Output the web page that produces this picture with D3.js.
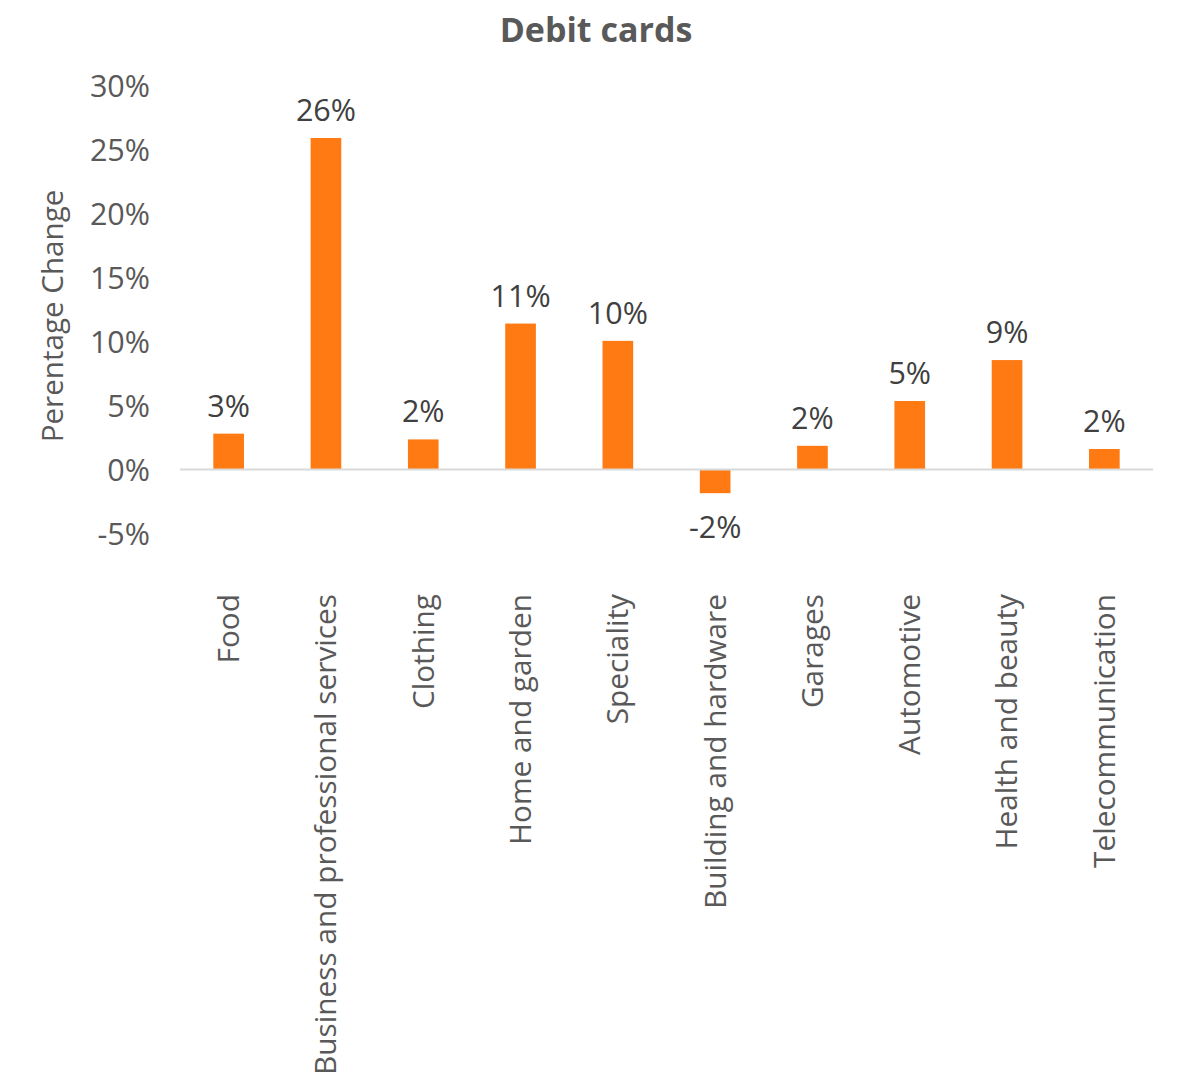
<!DOCTYPE html>
<html>
<head>
<meta charset="utf-8">
<script src="https://cdn.jsdelivr.net/npm/d3@7"></script>
<style>
  html, body { margin: 0; padding: 0; background: #fff; }
  svg { display: block; font-family: "Open Sans", "DejaVu Sans", sans-serif; }
</style>
</head>
<body>
<svg id="chart" width="1187" height="1079"></svg>
<script>
// Year-on-year change in debit card spending by merchant category (%)
const categories = [
  "Food",
  "Business and professional services",
  "Clothing",
  "Home and garden",
  "Speciality",
  "Building and hardware",
  "Garages",
  "Automotive",
  "Health and beauty",
  "Telecommunication"
];
const changes = [2.8, 25.9, 2.35, 11.4, 10.05, -1.85, 1.85, 5.35, 8.55, 1.6];
const yTicks = [-5, 0, 5, 10, 15, 20, 25, 30];

const svg = d3.select("#chart");

const x = d3.scaleBand()
  .domain(categories)
  .range([180, 1153])
  .paddingInner(0.685)
  .paddingOuter(0.3425);

const y = d3.scaleLinear()
  .domain([-5, 30])
  .range([533.5, 85.5]);

// Title
svg.append("text")
  .attr("x", 596)
  .attr("y", 42)
  .attr("text-anchor", "middle")
  .attr("font-size", 34)
  .attr("font-weight", 700)
  .attr("fill", "#595959")
  .text("Debit cards");

// Y axis (labels only)
const yAxis = d3.axisLeft(y)
  .tickValues(yTicks)
  .tickSize(0)
  .tickPadding(0)
  .tickFormat(d => d + "%");

svg.append("g")
  .attr("transform", "translate(150,1.5)")
  .call(yAxis)
  .call(g => g.select(".domain").remove())
  .call(g => g.selectAll("text")
    .attr("font-size", 30.5)
    .attr("font-family", "Open Sans, DejaVu Sans, sans-serif")
    .attr("fill", "#595959"));

// Y axis title
svg.append("text")
  .attr("transform", "translate(63,316) rotate(-90)")
  .attr("text-anchor", "middle")
  .attr("font-size", 29.6)
  .attr("fill", "#595959")
  .text("Perentage Change");

// Bars
svg.append("g")
  .selectAll("rect")
  .data(changes)
  .join("rect")
  .attr("x", (d, i) => x(categories[i]))
  .attr("width", x.bandwidth())
  .attr("y", d => y(Math.max(0, d)))
  .attr("height", d => Math.abs(y(d) - y(0)))
  .attr("fill", "#FF7A12");

// Zero line
svg.append("line")
  .attr("x1", 180)
  .attr("x2", 1153)
  .attr("y1", y(0))
  .attr("y2", y(0))
  .attr("stroke", "#D9D9D9")
  .attr("stroke-width", 2);

// Value labels
svg.append("g")
  .selectAll("text")
  .data(changes)
  .join("text")
  .attr("x", (d, i) => x(categories[i]) + x.bandwidth() / 2)
  .attr("y", d => d >= 0 ? y(d) - 17 : y(d) + 45)
  .attr("text-anchor", "middle")
  .attr("font-size", 30.5)
  .attr("fill", "#404040")
  .text(d => Math.round(d) + "%");

// Category labels, rotated
const xAxis = d3.axisBottom(x).tickSize(0).tickPadding(0);
svg.append("g")
  .call(xAxis)
  .call(g => g.select(".domain").remove())
  .call(g => g.selectAll(".tick text")
    .attr("transform", "translate(0,594) rotate(-90)")
    .attr("x", 0)
    .attr("y", 0)
    .attr("dy", "0.35em")
    .attr("text-anchor", "end")
    .attr("font-size", 29.8)
    .attr("font-family", "Open Sans, DejaVu Sans, sans-serif")
    .attr("fill", "#595959"));
</script>
</body>
</html>
